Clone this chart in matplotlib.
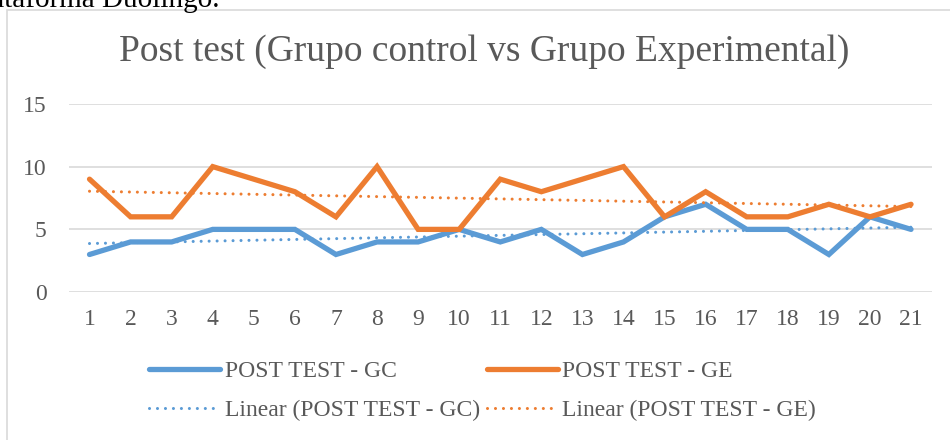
import numpy as np
import matplotlib
matplotlib.use('Agg')
import matplotlib.pyplot as plt
from matplotlib.patches import Rectangle

# data
sesiones = list(range(1, 22))
post_gc = [3, 4, 4, 5, 5, 5, 3, 4, 4, 5, 4, 5, 3, 4, 6, 7, 5, 5, 3, 6, 5]
post_ge = [9, 6, 6, 10, 9, 8, 6, 10, 5, 5, 9, 8, 9, 10, 6, 8, 6, 6, 7, 6, 7]
y_ticks = [0, 5, 10, 15]

BLUE = '#5B9BD5'
ORANGE = '#ED7D31'
GREY_TXT = '#595959'

plt.rcParams['font.family'] = ['Liberation Serif', 'DejaVu Serif']

fig = plt.figure(figsize=(9.5, 4.4), dpi=100)
ax = fig.add_axes([0.0726, 0.336, 0.908, 0.428])

# chart frame like the Word/Excel chart area
fig.patches.append(Rectangle((7 / 950, -0.1), 1.1, 1 - 10 / 440 + 0.1,
                             transform=fig.transFigure, fill=False,
                             edgecolor='#D9D9D9', linewidth=1.2))
# cut-off document text above the chart
fig.text(-0.035, 1 - 7 / 440, 'Plataforma Duolingo.', fontsize=21,
         color='black', va='baseline', ha='left')

x = np.array(sesiones)
l1, = ax.plot(x, post_gc, color=BLUE, lw=3.8, solid_capstyle='round',
              solid_joinstyle='miter', label='POST TEST - GC', zorder=3)
l2, = ax.plot(x, post_ge, color=ORANGE, lw=3.8, solid_capstyle='round',
              solid_joinstyle='miter', label='POST TEST - GE', zorder=3)

# linear trend lines
dot = (0, (0.01, 2.6))
c1 = np.polyfit(x, post_gc, 1)
c2 = np.polyfit(x, post_ge, 1)
t1, = ax.plot(x, np.polyval(c1, x), color=BLUE, lw=2.2, ls=dot,
              dash_capstyle='round', label='Linear (POST TEST - GC)', zorder=4)
t2, = ax.plot(x, np.polyval(c2, x), color=ORANGE, lw=2.2, ls=dot,
              dash_capstyle='round', label='Linear (POST TEST - GE)', zorder=4)

ax.set_xlim(0.5, 21.5)
ax.set_ylim(0, 15)
ax.set_yticks(y_ticks)
ax.set_xticks(x)
ax.grid(axis='y', color='#D9D9D9', lw=1.2)
ax.set_axisbelow(True)
for s in ax.spines.values():
    s.set_visible(False)
ax.tick_params(length=0, labelsize=17, colors=GREY_TXT)
ax.tick_params(axis='x', pad=12)
ax.tick_params(axis='y', pad=16)

fig.text(0.51, 1 - 52 / 440, 'Post test (Grupo control vs Grupo Experimental)',
         ha='center', va='center', fontsize=27, color=GREY_TXT)

leg = fig.legend([l1, t1, l2, t2],
                 ['POST TEST - GC', 'Linear (POST TEST - GC)',
                  'POST TEST - GE', 'Linear (POST TEST - GE)'],
                 ncol=2, loc='center', bbox_to_anchor=(0.508, 1 - 391 / 440),
                 frameon=False, fontsize=17, handlelength=3.0,
                 handletextpad=0.2, columnspacing=0.3, labelspacing=0.75)
for t in leg.get_texts():
    t.set_color(GREY_TXT)

fig.savefig('out.png', dpi=100)
